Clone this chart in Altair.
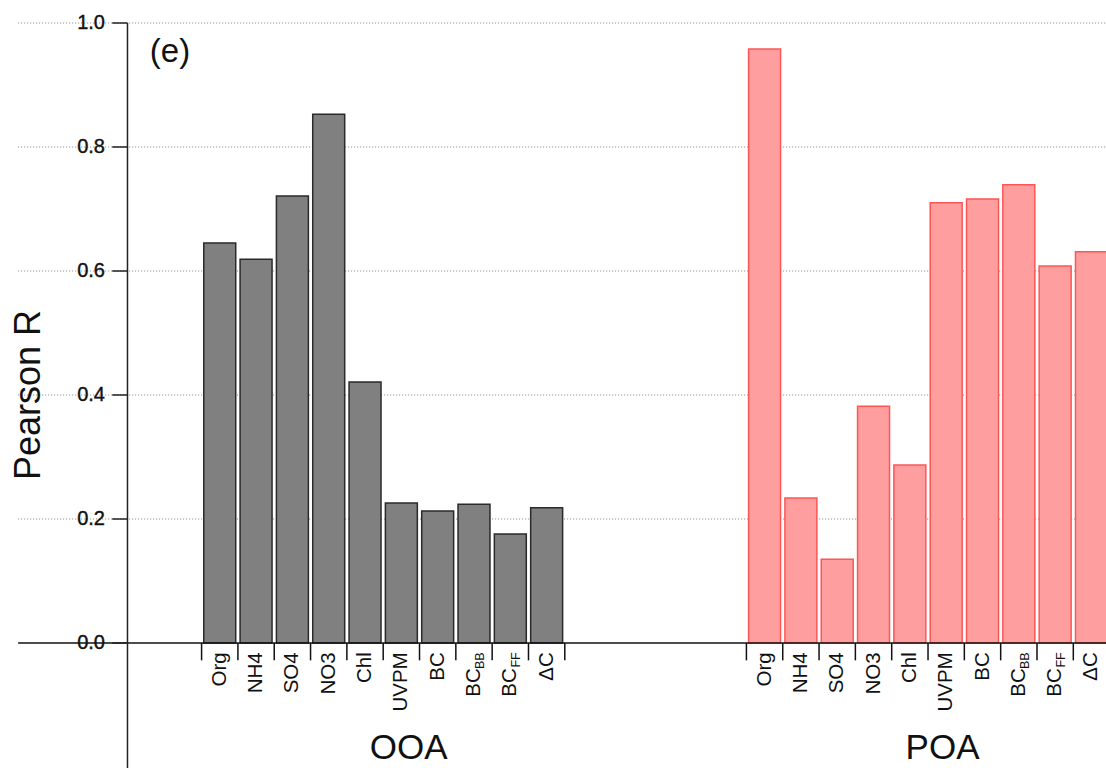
import altair as alt
import pandas as pd

# Correlation of each factor with the tracer species
labels = ["Org", "NH4", "SO4", "NO3", "Chl", "UVPM", "BC", "BC", "BC", "ΔC"]
subscripts = ["", "", "", "", "", "", "", "BB", "FF", ""]
ooa_r = [0.645, 0.619, 0.721, 0.853, 0.421, 0.226, 0.213, 0.224, 0.176, 0.218]
poa_r = [0.958, 0.234, 0.135, 0.382, 0.287, 0.710, 0.716, 0.739, 0.608, 0.631]
groups = ["OOA", "POA"]
y_ticks = [0.0, 0.2, 0.4, 0.6, 0.8, 1.0]
y_tick_labels = ["0.0", "0.2", "0.4", "0.6", "0.8", "1.0"]

# layout in bar-slot units
group_start = {"OOA": 0, "POA": 15}
group_label_x = {"OOA": 5.7, "POA": 20.4}
X_DOMAIN = [-5.55, 24.9]
Y_DOMAIN = [-0.2016, 1.0371]
AXIS_X = -2.04
GRID_X0 = -5.05
LABEL_Y = -0.015
FONT = "Liberation Sans"

xs = alt.Scale(domain=X_DOMAIN, nice=False, zero=False)
ys = alt.Scale(domain=Y_DOMAIN, nice=False, zero=False)

rows = []
for g, vals in (("OOA", ooa_r), ("POA", poa_r)):
    for i, (lab, sub, v) in enumerate(zip(labels, subscripts, vals)):
        s = group_start[g] + i
        rows.append({"group": g, "x0": s + 0.06, "x1": s + 0.94, "xc": s + 0.5,
                     "r": v, "base": 0.0, "ly": LABEL_Y, "label": lab, "sub": sub})
bars = pd.DataFrame(rows)

bounds = pd.DataFrame({"xb": [group_start[g] + k for g in groups for k in range(11)]})
bounds["y0"] = 0.0
bounds["y1"] = -0.028

hlines = pd.DataFrame({"y": y_ticks})
hlines["xa"] = GRID_X0
hlines["xb"] = X_DOMAIN[1]
grid = hlines[hlines.y > 0]
zero = hlines[hlines.y == 0]

yt = pd.DataFrame({"y": y_ticks, "t": y_tick_labels})
yt["xa"] = AXIS_X - 0.42
yt["xb"] = AXIS_X
yt["xl"] = AXIS_X - 0.62

axis_df = pd.DataFrame({"x": [AXIS_X], "ya": [1.0], "yb": [Y_DOMAIN[0]]})

glabels = pd.DataFrame({"g": groups, "xc": [group_label_x[g] for g in groups], "y": [-0.169, -0.169]})
ytitle = pd.DataFrame({"t": ["Pearson R"], "x": [-4.75], "y": [0.40]})
panel = pd.DataFrame({"t": ["(e)"], "x": [-0.87], "y": [0.953]})


def X(f):
    return alt.X(f, scale=xs, axis=None)


def Y(f):
    return alt.Y(f, scale=ys, axis=None)


grid_l = alt.Chart(grid).mark_rule(color="#808080", strokeWidth=1, strokeDash=[1, 2]).encode(
    y=Y("y:Q"), x=X("xa:Q"), x2="xb:Q")

zero_l = alt.Chart(zero).mark_rule(color="#111", strokeWidth=1.5).encode(
    y=Y("y:Q"), x=X("xa:Q"), x2="xb:Q")

axis_l = alt.Chart(axis_df).mark_rule(color="#222", strokeWidth=1.5).encode(
    x=X("x:Q"), y=Y("ya:Q"), y2="yb:Q")

ytick_l = alt.Chart(yt).mark_rule(color="#222", strokeWidth=1.5).encode(
    y=Y("y:Q"), x=X("xa:Q"), x2="xb:Q")

ylab_l = alt.Chart(yt).mark_text(align="right", baseline="middle", font=FONT, fontSize=20,
                                  color="#111", stroke="#111", strokeWidth=0.4).encode(
    y=Y("y:Q"), x=X("xl:Q"), text="t:N")

ooa_bars = alt.Chart(bars[bars.group == "OOA"]).mark_bar(
    fill="#808080", stroke="#2a2a2a", strokeWidth=1.5, clip=True).encode(
    x=X("x0:Q"), x2="x1:Q", y=Y("r:Q"), y2="base:Q")

poa_bars = alt.Chart(bars[bars.group == "POA"]).mark_bar(
    fill="#FF9E9E", stroke="#FF5555", strokeWidth=1.5, clip=True).encode(
    x=X("x0:Q"), x2="x1:Q", y=Y("r:Q"), y2="base:Q")

btick_l = alt.Chart(bounds).mark_rule(color="#111", strokeWidth=1.5, clip=True).encode(
    x=X("xb:Q"), y=Y("y0:Q"), y2="y1:Q")

plain = bars[bars["sub"] == ""]
with_sub = bars[bars["sub"] != ""]

cat_l = alt.Chart(plain).mark_text(angle=270, align="right", baseline="middle",
                                   font=FONT, fontSize=20.5, color="#111").encode(
    x=X("xc:Q"), y=Y("ly:Q"), text="label:N")

cat_main_l = alt.Chart(with_sub).mark_text(angle=270, align="right", baseline="middle",
                                           font=FONT, fontSize=20.5, color="#111", dx=-16).encode(
    x=X("xc:Q"), y=Y("ly:Q"), text="label:N")

cat_sub_l = alt.Chart(with_sub).mark_text(angle=270, align="right", baseline="middle",
                                          font=FONT, fontSize=12.5, color="#111", dy=6).encode(
    x=X("xc:Q"), y=Y("ly:Q"), text="sub:N")

grp_l = alt.Chart(glabels).mark_text(align="center", baseline="middle", font=FONT,
                                     fontSize=35, color="#111").encode(
    x=X("xc:Q"), y=Y("y:Q"), text="g:N")

ytitle_l = alt.Chart(ytitle).mark_text(angle=270, align="center", baseline="middle",
                                       font=FONT, fontSize=36, color="#111").encode(
    x=X("x:Q"), y=Y("y:Q"), text="t:N")

panel_l = alt.Chart(panel).mark_text(align="center", baseline="middle", font=FONT,
                                     fontSize=33, color="#111").encode(
    x=X("x:Q"), y=Y("y:Q"), text="t:N")

chart = alt.layer(
    grid_l, ooa_bars, poa_bars, zero_l, axis_l, ytick_l, ylab_l, btick_l,
    cat_l, cat_main_l, cat_sub_l, grp_l, ytitle_l, panel_l
).properties(
    width=1106, height=768, padding=0,
    autosize=alt.AutoSizeParams(type="none"),
    background="white",
).configure_view(stroke=None)

chart.save("out.html", embed_options={"renderer": "svg", "actions": False})
